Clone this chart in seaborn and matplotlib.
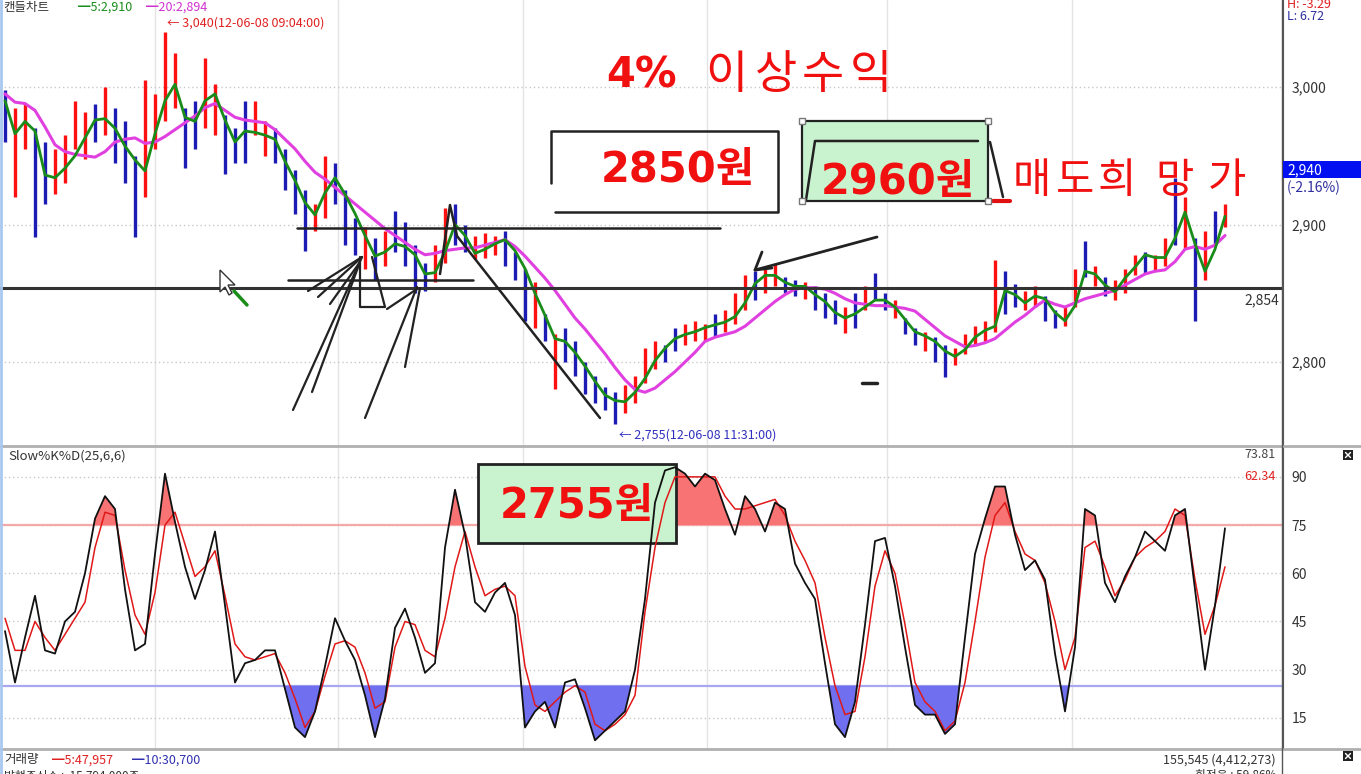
import matplotlib
matplotlib.use("Agg")
import matplotlib.pyplot as plt
import numpy as np
import pandas as pd
import seaborn as sns
from matplotlib.lines import Line2D
from matplotlib.patches import Rectangle, Polygon
from matplotlib.transforms import Affine2D

# ---- candle data (one bar per slot) ----
high = [
    2998, 2985, 2988, 2970, 2960, 2955, 2965, 2990, 2982, 2988,
    3000, 2985, 2975, 2950, 3005, 2995, 3040, 3025, 2985, 2990,
    3021, 3002, 2980, 2970, 2990, 2990, 2975, 2970, 2955, 2940,
    2925, 2915, 2950, 2945, 2925, 2905, 2898, 2890, 2895, 2910,
    2902, 2885, 2872, 2885, 2912, 2915, 2900, 2892, 2894, 2892,
    2895, 2880, 2868, 2858, 2835, 2820, 2825, 2815, 2800, 2790,
    2782, 2778, 2783, 2790, 2810, 2815, 2812, 2825, 2828, 2830,
    2828, 2835, 2838, 2850, 2863, 2866, 2868, 2871, 2862, 2860,
    2858, 2855, 2850, 2845, 2840, 2850, 2855, 2865, 2850, 2845,
    2832, 2825, 2822, 2818, 2812, 2810, 2820, 2826, 2830, 2874,
    2866, 2857, 2852, 2855, 2848, 2838, 2840, 2868, 2888, 2870,
    2862, 2860, 2868, 2878, 2880, 2878, 2890, 2934, 2920, 2890,
    2895, 2910, 2915,
]
low = [
    2960, 2920, 2955, 2891, 2915, 2922, 2930, 2955, 2948, 2960,
    2965, 2945, 2930, 2891, 2920, 2955, 2975, 2985, 2941, 2955,
    2970, 2965, 2937, 2945, 2945, 2965, 2950, 2945, 2925, 2908,
    2881, 2895, 2905, 2915, 2885, 2878, 2868, 2860, 2870, 2880,
    2870, 2850, 2852, 2858, 2872, 2885, 2880, 2875, 2876, 2878,
    2870, 2860, 2830, 2825, 2815, 2780, 2800, 2790, 2777, 2770,
    2765, 2755, 2763, 2770, 2785, 2795, 2800, 2808, 2812, 2815,
    2815, 2818, 2822, 2828, 2838, 2845, 2850, 2855, 2850, 2848,
    2846, 2838, 2832, 2828, 2821, 2825, 2838, 2845, 2838, 2832,
    2820, 2812, 2808, 2800, 2789, 2798, 2806, 2812, 2815, 2822,
    2835, 2840, 2838, 2840, 2830, 2825, 2826, 2840, 2862, 2855,
    2848, 2845, 2850, 2863, 2865, 2866, 2870, 2885, 2882, 2830,
    2860, 2885, 2898,
]
rising = [
    0, 1, 1, 0, 0, 1, 1, 1, 1, 0,
    1, 0, 0, 0, 1, 1, 1, 1, 0, 0,
    1, 1, 0, 0, 0, 1, 1, 0, 0, 0,
    0, 1, 1, 0, 0, 0, 1, 0, 1, 0,
    0, 0, 0, 1, 1, 0, 0, 1, 1, 1,
    0, 0, 0, 1, 0, 1, 0, 0, 0, 0,
    0, 0, 1, 1, 1, 1, 0, 0, 1, 1,
    1, 0, 1, 1, 1, 0, 1, 1, 0, 0,
    1, 0, 0, 0, 1, 0, 1, 0, 0, 1,
    0, 0, 1, 0, 0, 1, 1, 1, 1, 1,
    0, 0, 1, 1, 0, 0, 1, 1, 0, 1,
    0, 1, 1, 1, 0, 1, 1, 0, 1, 0,
    1, 0, 1,
]
ma5 = [
    2990, 2966, 2975, 2968, 2936, 2934, 2941, 2950, 2963, 2976,
    2977, 2970, 2957, 2947, 2939, 2966, 2990, 3002, 2978, 2975,
    2990, 2995, 2976, 2960, 2968, 2967, 2965, 2962, 2946, 2932,
    2916, 2907, 2923, 2934, 2922, 2908, 2892, 2877, 2880, 2886,
    2884, 2878, 2864, 2865, 2880, 2900, 2892, 2879, 2882, 2886,
    2889, 2881, 2868, 2850, 2834, 2817, 2815, 2807, 2797, 2786,
    2776, 2772, 2771, 2778, 2788, 2801, 2810, 2817, 2820, 2822,
    2825, 2827, 2829, 2833, 2843, 2857, 2863, 2863, 2858, 2855,
    2855, 2849, 2844, 2836, 2832, 2835, 2840, 2845, 2845, 2840,
    2831, 2822, 2819, 2815, 2808, 2804, 2809, 2818, 2823, 2826,
    2852, 2849, 2843, 2848, 2846, 2836, 2830, 2841, 2866, 2864,
    2856, 2851, 2861, 2869, 2878, 2876, 2876, 2890, 2909, 2886,
    2866, 2882, 2906,
]
ma20 = [
    2995, 2989, 2988, 2983, 2971, 2958, 2953, 2951, 2950, 2949,
    2953, 2960, 2962, 2963, 2959, 2960, 2964, 2969, 2974, 2979,
    2985, 2988, 2983, 2978, 2976, 2975, 2974, 2969, 2962, 2955,
    2946, 2938, 2933, 2927, 2921, 2915, 2909, 2903, 2897, 2892,
    2887, 2882, 2878, 2879, 2881, 2882, 2883, 2883, 2885, 2887,
    2889, 2884, 2877, 2869, 2861, 2852, 2842, 2832, 2824, 2815,
    2806, 2796, 2787, 2780, 2778, 2781, 2787, 2793, 2800, 2807,
    2815, 2818, 2820, 2822, 2826, 2832, 2838, 2844, 2849, 2853,
    2854, 2854, 2853, 2850, 2846, 2843, 2842, 2841, 2841, 2840,
    2839, 2837, 2831, 2825, 2819, 2815, 2811, 2812, 2814, 2817,
    2823, 2829, 2834, 2840, 2845, 2842, 2840, 2843, 2846, 2848,
    2850, 2852, 2856, 2860, 2864, 2866, 2867, 2873, 2882, 2884,
    2882, 2885, 2892,
]

# ---- Slow %K / %D ----
slow_k = [
    42, 26, 40, 53, 36, 35, 45, 48, 60, 77,
    84, 80, 55, 36, 38, 66, 91, 76, 62, 52,
    61, 73, 50, 26, 32, 33, 36, 36, 24, 12,
    9, 17, 31, 46, 39, 33, 22, 9, 21, 43,
    49, 40, 29, 32, 68, 86, 72, 51, 48, 54,
    57, 47, 12, 17, 20, 12, 26, 27, 18, 8,
    11, 14, 17, 30, 52, 82, 92, 93, 91, 87,
    91, 89, 80, 72, 84, 80, 73, 82, 80, 63,
    57, 52, 32, 13, 9, 20, 44, 70, 71, 56,
    37, 19, 16, 16, 10, 13, 40, 66, 77, 87,
    87, 72, 61, 64, 58, 35, 17, 37, 80, 78,
    57, 51, 59, 65, 73, 70, 67, 78, 80, 55,
    30, 50, 74,
]
slow_d = [
    46, 36, 36, 45, 40, 36, 41, 46, 51, 68,
    79, 78, 61, 47, 41, 54, 75, 79, 69, 59,
    62, 67, 53, 38, 34, 33, 34, 35, 29, 21,
    12, 17, 28, 38, 39, 37, 29, 18, 20, 37,
    45, 44, 36, 34, 46, 62, 73, 62, 53, 55,
    56, 53, 31, 19, 17, 20, 23, 25, 23, 13,
    11, 13, 16, 22, 48, 68, 82, 90, 90, 90,
    90, 90, 84, 80, 80, 81, 82, 83, 78, 70,
    64, 57, 40, 25, 16, 17, 34, 56, 67, 60,
    44, 26, 20, 17, 11, 14, 26, 45, 65, 78,
    82, 73, 66, 64, 57, 45, 30, 40, 68, 70,
    62, 53, 58, 65, 68, 70, 73, 80, 78, 58,
    41, 50, 62,
]

price_ticks = [2800, 2900, 3000]
stoch_ticks = [15, 30, 45, 60, 75, 90]
support_level = 2854
time_grid = [15, 33.3, 51.8, 70.2, 88.2, 106.7]

df = pd.DataFrame({"bar": np.arange(len(high)), "high": high, "low": low,
                   "rising": rising, "ma5": ma5, "ma20": ma20,
                   "k": slow_k, "d": slow_d})

sns.set_style("white")
plt.rcParams["font.family"] = ["Noto Sans CJK KR", "DejaVu Sans"]
plt.rcParams["axes.unicode_minus"] = False
BIG = ["DejaVu Sans", "Noto Sans CJK KR"]  # wide heavy digits, hangul falls back

W, H = 1361, 774
fig = plt.figure(figsize=(W / 100, H / 100), dpi=100)
pix = Affine2D().scale(1 / W, -1 / H).translate(0, 1) + fig.transFigure

ax = fig.add_axes([0, 1 - 446 / H, 1283 / W, 446 / H])
ax2 = fig.add_axes([0, 1 - 749 / H, 1283 / W, 302 / H])

for a in (ax, ax2):
    a.set_xlim(-0.5, 127.8)
    for s in ("top", "left", "bottom"):
        a.spines[s].set_visible(False)
    a.spines["right"].set_color("#555555")
    a.yaxis.tick_right()
    a.tick_params(axis="y", length=0, pad=6, labelsize=10, labelcolor="#333333")
    a.set_xticks([])
    for g in time_grid:
        a.axvline(g, color="#e4e4e4", lw=1, zorder=0)

# ---- price panel ----
ax.set_ylim(2738.9, 3063.3)
ax.set_yticks(price_ticks)
ax.set_yticklabels([f"{t:,}" for t in price_ticks])
for t in price_ticks:
    ax.axhline(t, color="#c8c8c8", lw=1, ls=(0, (1, 2)), zorder=0)

bar_colors = np.where(df["rising"] == 1, "#ff1010", "#1c1cb4")
ax.vlines(df["bar"], df["low"], df["high"], colors=bar_colors, lw=2.4, zorder=2)
sns.lineplot(data=df, x="bar", y="ma20", ax=ax, color="#e040e0", lw=2.2, zorder=3)
sns.lineplot(data=df, x="bar", y="ma5", ax=ax, color="#1a8c1a", lw=2, zorder=4)
ax.axhline(support_level, color="#333333", lw=2.2, zorder=5)
ax.set_xlabel("")
ax.set_ylabel("")
ax.text(1279, 300, f"{support_level:,}", transform=pix, ha="right", va="center",
        fontsize=10, color="#333333")

# ---- stochastic panel ----
ax2.set_ylim(5.3, 99.3)
ax2.set_yticks(stoch_ticks)
ax2.set_yticklabels([str(t) for t in stoch_ticks])
for t in stoch_ticks:
    ax2.axhline(t, color="#c8c8c8", lw=1, ls=(0, (1, 2)), zorder=0)
ax2.axhline(75, color="#f4a8a8", lw=1.6, zorder=1)
ax2.axhline(25, color="#a8a8f0", lw=1.6, zorder=1)
kk = df["k"].to_numpy()
ax2.fill_between(df["bar"], kk, 75, where=kk > 75, interpolate=True,
                 color="#f87474", lw=0, zorder=2)
ax2.fill_between(df["bar"], kk, 25, where=kk < 25, interpolate=True,
                 color="#6f6ff0", lw=0, zorder=2)
ax2.add_patch(Rectangle((478, 464), 198, 79, transform=pix, facecolor="#c9f2cf",
                        edgecolor="#222222", lw=2, zorder=2.5, clip_on=False))
sns.lineplot(data=df, x="bar", y="d", ax=ax2, color="#e01818", lw=1.1, zorder=3)
sns.lineplot(data=df, x="bar", y="k", ax=ax2, color="#111111", lw=1.3, zorder=4)
ax2.set_xlabel("")
ax2.set_ylabel("")


def stroke(pts, color="#222222", lw=1.6, z=6):
    xs, ys = zip(*pts)
    fig.add_artist(Line2D(xs, ys, transform=pix, color=color, lw=lw, zorder=z,
                          solid_capstyle="round", solid_joinstyle="round"))


def label(x, y, s, **kw):
    kw.setdefault("va", "center")
    kw.setdefault("fontsize", 9)
    fig.text(x, y, s, transform=pix, **kw)


# panel frames
stroke([(0, 446), (W, 446)], color="#b0b0b0", lw=2, z=7)
stroke([(0, 749), (W, 749)], color="#b0b0b0", lw=2, z=7)
stroke([(1282.5, 0), (1282.5, H)], color="#555555", lw=1, z=7)
stroke([(1, 0), (1, H)], color="#a8c8f0", lw=2, z=7)

# hand drawn marks on the price panel
stroke([(297, 228), (720, 228)], lw=1.8)
stroke([(288, 280), (473, 280)], lw=1.8)
stroke([(440, 274), (450, 205), (457, 236), (600, 418)], lw=1.8)
stroke([(293, 410), (362, 257)])
stroke([(312, 392), (360, 262)])
stroke([(365, 418), (417, 287)])
stroke([(405, 367), (420, 288)])
stroke([(362, 257), (308, 291)])
stroke([(362, 257), (318, 297)])
stroke([(360, 262), (330, 304)])
stroke([(360, 257), (360, 307), (385, 307), (372, 257)])
stroke([(387, 309), (417, 289)])
stroke([(877, 237), (755, 270)], lw=2)
stroke([(762, 252), (755, 270), (772, 268)], lw=2)
stroke([(862, 383), (877, 383)], lw=2.5)
fig.add_artist(Polygon([(220, 270), (220, 292), (225, 287), (229, 295), (232, 293),
                        (228, 285), (235, 285)], closed=True, transform=pix,
                       facecolor="white", edgecolor="#333333", lw=1, zorder=8))
stroke([(234, 291), (247, 305)], color="#1a8c1a", lw=2.5)

# 2850 box
stroke([(551, 183), (551, 131), (778, 131), (778, 212), (555, 212)], lw=1.8)
label(678, 170, "2850원", ha="center", fontsize=30, fontweight="bold",
      family=BIG, color="#f01010", zorder=9)

# 2960 box
fig.add_artist(Rectangle((802, 121), 186, 80, transform=pix, facecolor="#c9f2cf",
                         edgecolor="#222222", lw=1.6, zorder=6))
stroke([(806, 200), (815, 141), (978, 141)], lw=1.8)
stroke([(990, 142), (1003, 197)], lw=1.8)
stroke([(993, 201), (1010, 201)], color="#e01010", lw=3)
for hx, hy in [(802, 121), (988, 121), (802, 201), (988, 201)]:
    fig.add_artist(Rectangle((hx - 3, hy - 3), 6, 6, transform=pix, facecolor="white",
                             edgecolor="#777777", lw=1, zorder=8))
label(898, 182, "2960원", ha="center", fontsize=30, fontweight="bold",
      family=BIG, color="#f01010", zorder=9)
for cx, ch in zip([1032, 1075, 1117, 1175, 1227], "매도희망가"):
    label(cx, 182, ch, ha="center", fontsize=30, color="#f01010", zorder=9)

# 4% headline
label(606, 75, "4%", ha="left", fontsize=30, fontweight="bold", family=BIG,
      color="#f01010", zorder=9)
for cx, ch in zip([726, 776, 823, 871], "이상수익"):
    label(cx, 75, ch, ha="center", fontsize=33, color="#f01010", zorder=9)

label(577, 506, "2755원", ha="center", fontsize=30, fontweight="bold",
      family=BIG, color="#f01010", zorder=9)

# header / info texts
label(3, 7, "캔들차트", color="#333333")
label(78, 7, "━5:2,910", color="#1a8c1a")
label(146, 7, "━20:2,894", color="#d030d0")
label(167, 23, "← 3,040(12-06-08 09:04:00)", color="#e02020")
label(619, 435, "← 2,755(12-06-08 11:31:00)", color="#3030c0")
label(1287, 4, "H: -3.29", color="#e02020")
label(1287, 17, "L: 6.72", color="#3030a0")
fig.add_artist(Rectangle((1283, 161), 78, 17, transform=pix, facecolor="#0010f0",
                         edgecolor="none", zorder=7))
label(1287, 170, "2,940", color="white", fontsize=10, zorder=8)
label(1287, 188, "(-2.16%)", color="#3030a0", fontsize=10)

label(8, 456, "Slow%K%D(25,6,6)", color="#333333", fontsize=9.5)
label(1276, 455, "73.81", ha="right", color="#444444")
label(1276, 476, "62.34", ha="right", color="#e02020")

label(4, 760, "거래량", color="#333333")
label(52, 760, "━5:47,957", color="#e02020")
label(132, 760, "━10:30,700", color="#3030b0")
label(4, 776, "발행주식수 :  15,794,000주", color="#333333", fontsize=8.5)
label(1276, 760, "155,545 (4,412,273)", ha="right", color="#333333")
label(1276, 776, "회전율 : 59.86%", ha="right", color="#333333", fontsize=8.5)

for by in (450, 751):
    fig.add_artist(Rectangle((1343, by), 10, 10, transform=pix, facecolor="#222222",
                             edgecolor="none", zorder=8))
    stroke([(1345.5, by + 2.5), (1350.5, by + 7.5)], color="white", lw=1, z=9)
    stroke([(1345.5, by + 7.5), (1350.5, by + 2.5)], color="white", lw=1, z=9)

fig.savefig("out.png", dpi=100)
